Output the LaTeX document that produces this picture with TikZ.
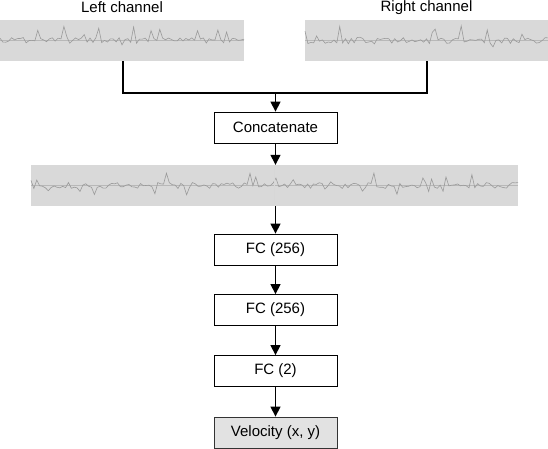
\documentclass[tikz,border=0pt]{standalone}
\usepackage{fontspec}
\setmainfont{Liberation Sans}
\usetikzlibrary{arrows.meta}

\definecolor{sigbg}{HTML}{D9D9D9}
\definecolor{sigline}{HTML}{9A9A9A}
\definecolor{outfill}{HTML}{E2E2E2}

% noisy trace drawn inside a signal box
\newcommand{\sigtrace}[4]{%
  \draw[sigline!70,very thin] (#1,#3) -- (#2,#3);
  \draw[sigline,line width=0.6pt] plot[domain=#1:#2,samples=#4]
    (\x,{#3+3*rand-13*(rnd>0.85)*rnd+8*(rnd>0.88)*rnd});
}

\begin{document}
\begin{tikzpicture}[x=1pt,y=-1pt,
  every node/.style={font=\fontsize{15}{17}\selectfont},
  layer/.style={draw,line width=0.8pt,fill=white,minimum width=123pt,
    minimum height=31pt,inner sep=0pt},
  output/.style={layer,draw=black!80,fill=outfill},
  sigbox/.style={fill=sigbg,minimum height=41pt,inner sep=0pt},
  wire/.style={line width=1.5pt},
  flow/.style={line width=1.3pt,-{Triangle[width=10pt,length=10pt]}}]

  \useasboundingbox (0,0) rectangle (548,448);
  \pgfmathsetseed{2718}

  % inputs
  \node (LCH) at (122,7.5) {Left channel};
  \node (RCH) at (426.5,7.5) {Right channel};
  \node (LSIG) at (122,40.5) [sigbox,minimum width=244pt] {};
  \node (RSIG) at (426.5,40.5) [sigbox,minimum width=243pt] {};
  \sigtrace{0}{244}{40.5}{85}
  \sigtrace{305}{548}{40.5}{85}

  \coordinate (JOIN) at (275.5,93);
  \draw[wire] (LSIG.south -| 123,0) |- (JOIN);
  \draw[wire] (RSIG.south -| 427,0) |- (JOIN);

  % network
  \node (CAT) at (275.5,127.5) [layer] {Concatenate};
  \node (BOTH) at (274.5,185.5) [sigbox,minimum width=487pt] {};
  \sigtrace{31}{518}{185.5}{170}
  \draw[sigline!40,very thin] (BOTH.north) -- (BOTH.south);

  \node (FC1) at (275.5,249.5) [layer] {FC (256)};
  \node (FC2) at (275.5,310) [layer] {FC (256)};
  \node (FC3) at (275.5,371) [layer] {FC (2)};
  \node (VEL) at (275.5,432.5) [output] {Velocity (x, y)};

  \draw[flow] (JOIN) -- (CAT);
  \draw[flow] (CAT) -- (CAT |- BOTH.north);
  \draw[flow] (CAT |- BOTH.south) -- (FC1);
  \draw[flow] (FC1) -- (FC2);
  \draw[flow] (FC2) -- (FC3);
  \draw[flow] (FC3) -- (VEL);

\end{tikzpicture}
\end{document}
